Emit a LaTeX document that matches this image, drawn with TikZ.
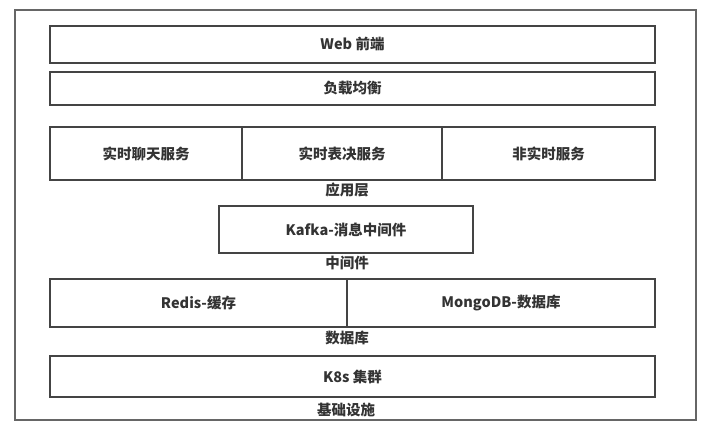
\documentclass[tikz,border=0pt]{standalone}
\usepackage{fontspec}
\setmainfont{Noto Sans CJK SC}
\definecolor{boxline}{HTML}{444444}
\definecolor{frameline}{HTML}{666666}
\definecolor{txt}{HTML}{333333}
\tikzset{
    layer/.style={draw=boxline, line width=1.3pt, rectangle, inner sep=0pt,
        text=txt, font=\fontsize{14.5}{16}\selectfont\bfseries},
    tag/.style={text=txt, inner sep=0pt, font=\fontsize{14.5}{16}\selectfont\bfseries}
}
\begin{document}
\begin{tikzpicture}[x=1pt, y=-1pt]
    \useasboundingbox (0,0) rectangle (725,435);
    % outer frame
    \draw[frameline, line width=1.6pt] (15,10) rectangle (696,420);
    % access layers
    \node[layer, minimum width=605pt, minimum height=37pt] (web) at (352.5,44.5) {Web 前端};
    \node[layer, minimum width=605pt, minimum height=33pt] (lb) at (352.5,88.5) {负载均衡};
    % application layer
    \node[layer, minimum width=192pt, minimum height=53pt] (chat) at (146,153.5) {实时聊天服务};
    \node[layer, minimum width=200pt, minimum height=53pt] (vote) at (342,153.5) {实时表决服务};
    \node[layer, minimum width=213pt, minimum height=53pt] (nonrt) at (548.5,153.5) {非实时服务};
    \node[tag] (applbl) at (347,190) {应用层};
    % middleware
    \node[layer, minimum width=254pt, minimum height=47pt] (kafka) at (346,229.5) {Kafka-消息中间件};
    \node[tag] (midlbl) at (347,263) {中间件};
    % databases
    \node[layer, minimum width=297pt, minimum height=48pt] (redis) at (198.5,303) {Redis-缓存};
    \node[layer, minimum width=308pt, minimum height=48pt] (mongo) at (501,303) {MongoDB-数据库};
    \node[tag] (dblbl) at (347,338) {数据库};
    % infrastructure
    \node[layer, minimum width=605pt, minimum height=41pt] (k8s) at (352.5,376.5) {K8s 集群};
    \node[tag] (infralbl) at (346,410) {基础设施};
\end{tikzpicture}
\end{document}
